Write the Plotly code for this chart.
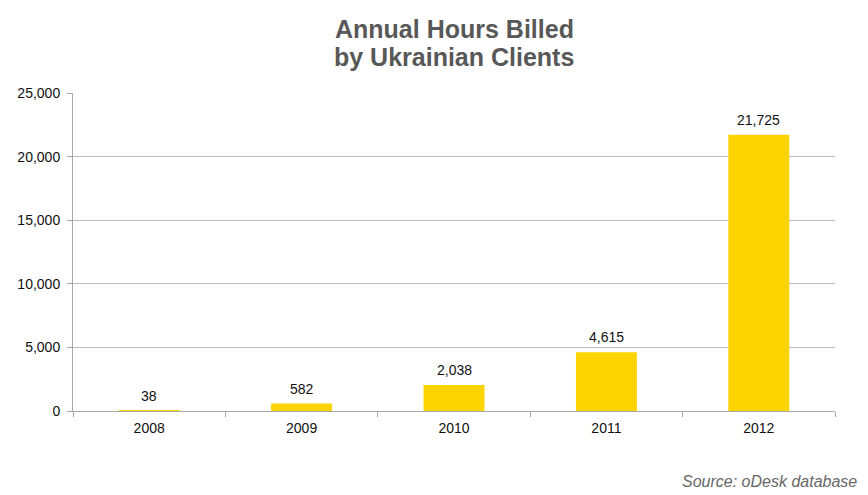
import plotly.graph_objects as go

years = ["2008", "2009", "2010", "2011", "2012"]
hours = [38, 582, 2038, 4615, 21725]
y_ticks = [0, 5000, 10000, 15000, 20000, 25000]
title_lines = ["Annual Hours Billed", "by Ukrainian Clients"]

FONT = "Liberation Sans, Arial, Helvetica, sans-serif"

fig = go.Figure()
fig.add_trace(go.Bar(
    x=years, y=hours,
    marker=dict(color="#FFD300", line=dict(width=0)),
    width=0.4,
    hoverinfo="x+y",
))

for i, v in enumerate(hours):
    fig.add_annotation(
        x=i, y=v, text=f"{v:,}", showarrow=False,
        yanchor="bottom", yshift=5,
        font=dict(family=FONT, size=14, color="#111111"),
    )

# two-line title placed as paper annotations for tight line spacing
for line, ypos in zip(title_lines, [1.2, 1.112]):
    fig.add_annotation(
        xref="paper", yref="paper", x=0.5, y=ypos,
        xanchor="center", yanchor="middle",
        text=f"<b>{line}</b>", showarrow=False,
        font=dict(family=FONT, size=25, color="#585858"),
    )

fig.add_annotation(
    xref="paper", yref="paper", x=1.031, y=-0.223,
    xanchor="right", yanchor="middle",
    text="<i>Source: oDesk database</i>", showarrow=False,
    font=dict(family=FONT, size=16, color="#666666"),
)

fig.update_layout(
    width=868, height=495,
    margin=dict(l=73, r=33, t=93, b=84),
    paper_bgcolor="white", plot_bgcolor="white",
    showlegend=False,
    xaxis=dict(
        type="category",
        categoryorder="array", categoryarray=years,
        showline=True, linecolor="#a8a8a8", linewidth=1,
        ticks="outside", tickson="boundaries", ticklen=5, tickcolor="#a8a8a8",
        showgrid=False, tickangle=0, ticklabelstandoff=4,
        tickfont=dict(family=FONT, size=14, color="#111111"),
    ),
    yaxis=dict(
        range=[0, 25000],
        tickvals=y_ticks,
        tickformat=",",
        showline=True, linecolor="#a8a8a8", linewidth=1,
        ticks="outside", ticklen=5, tickcolor="#a8a8a8",
        showgrid=True, gridcolor="#b8b8b8", gridwidth=1,
        zeroline=False, ticklabelstandoff=4,
        tickfont=dict(family=FONT, size=14, color="#111111"),
    ),
)

fig.write_html("out.html")
